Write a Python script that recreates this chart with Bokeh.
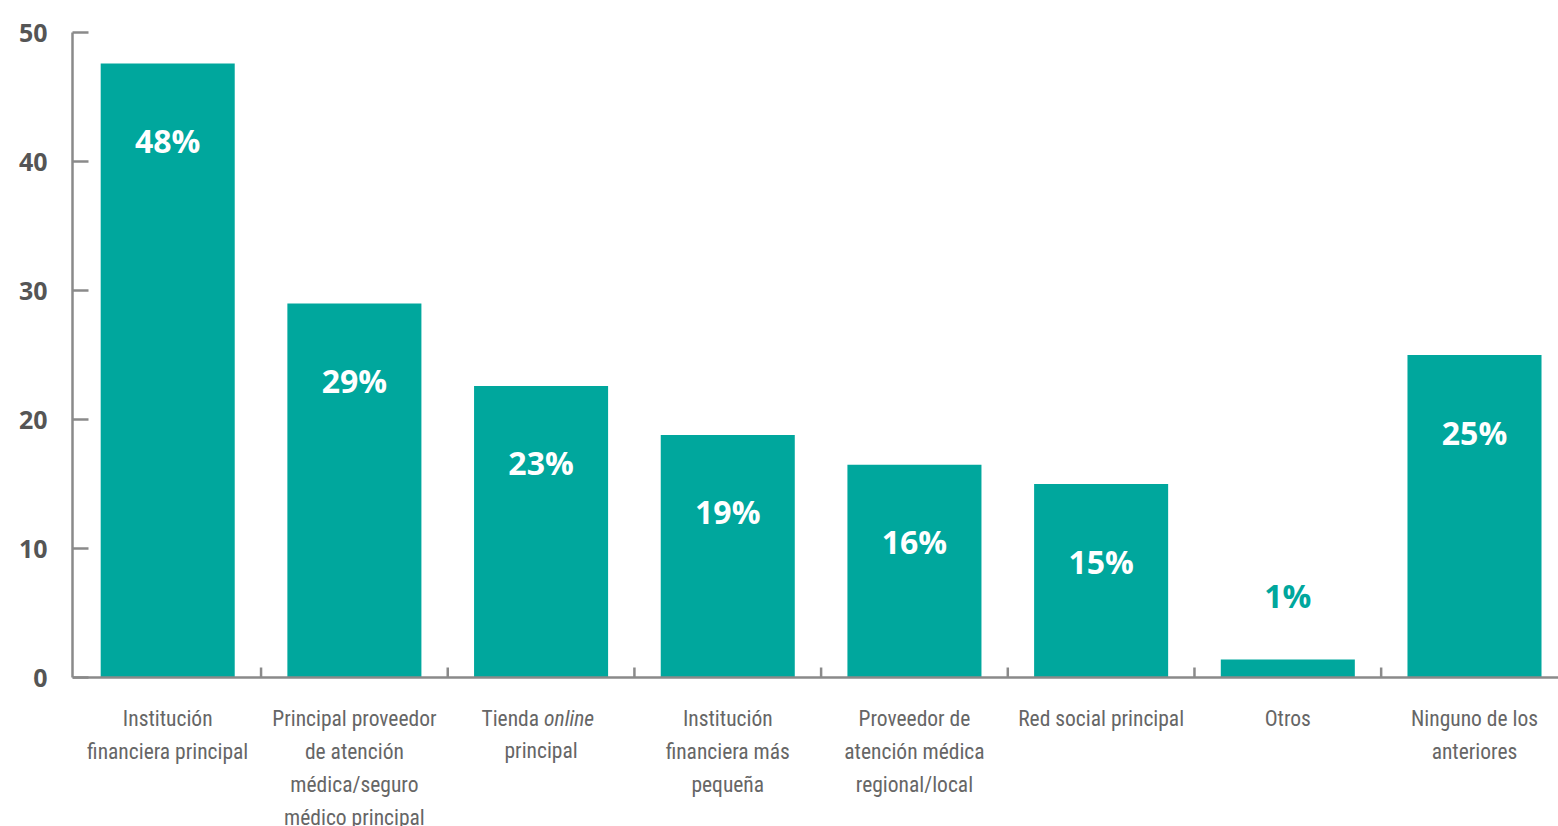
from bokeh.plotting import figure
from bokeh.models import ColumnDataSource, FixedTicker, Span
from bokeh.core.properties import value
from bokeh.embed import file_html
from bokeh.resources import INLINE

categories = [
    "Institución\nfinanciera principal",
    "Principal proveedor\nde atención\nmédica/seguro\nmédico principal",
    "Tienda online\nprincipal",
    "Institución\nfinanciera más\npequeña",
    "Proveedor de\natención médica\nregional/local",
    "Red social principal",
    "Otros",
    "Ninguno de los\nanteriores",
]
italic_word = "online"
values = [47.6, 29.0, 22.6, 18.8, 16.5, 15.0, 1.4, 25.0]
value_labels = ["48%", "29%", "23%", "19%", "16%", "15%", "1%", "25%"]
y_ticks = [0, 10, 20, 30, 40, 50]

TEAL = "#00A79D"
GRAY = "#8a8a8a"
TXT = "#666666"
LABEL_FONT = "'Roboto Condensed', 'Liberation Sans Narrow', Roboto, sans-serif"
BOLD_FONT = "'Open Sans', sans-serif"
LABEL_SIZE = "21.5px"
LINE_H = 1.32

PX_PER_UNIT = 12.9          # vertical scale (px per percentage point)
xs = list(range(len(categories)))
inside = [v >= 5 for v in values]
src = ColumnDataSource(dict(
    x=xs, top=values, lab=value_labels,
    color=["white" if i else TEAL for i in inside],
    off=[77 if i else -64 for i in inside],
))

p = figure(width=1558, height=826, output_backend="svg", toolbar_location=None,
           x_range=(-0.51, 7.45), y_range=(-149 / PX_PER_UNIT, 50),
           x_axis_location=None,
           min_border_left=72, min_border_right=0, min_border_top=32, min_border_bottom=0)
p.outline_line_color = None
p.xgrid.grid_line_color = None
p.ygrid.grid_line_color = None
p.background_fill_color = "white"
p.border_fill_color = "white"

p.vbar(x="x", top="top", bottom=0, width=0.718, source=src, fill_color=TEAL, line_color=None)
p.text(x="x", y="top", text="lab", source=src, y_offset="off", text_color="color",
       text_font=value(BOLD_FONT), text_font_style="bold", text_font_size="32px",
       text_align="center", text_baseline="middle")

# y axis limited to 0..50
ya = p.yaxis[0]
ya.ticker = FixedTicker(ticks=y_ticks)
ya.bounds = (min(y_ticks), max(y_ticks))
ya.axis_line_color = GRAY
ya.axis_line_width = 2.5
ya.major_tick_line_color = GRAY
ya.major_tick_line_width = 2.5
ya.major_tick_in = 16
ya.major_tick_out = 0
ya.minor_tick_line_color = None
ya.major_label_standoff = 25
ya.major_label_text_font = BOLD_FONT
ya.major_label_text_font_style = "bold"
ya.major_label_text_font_size = "25px"
ya.major_label_text_color = "#555555"

# x axis line at 0 with separator ticks between categories
p.add_layout(Span(location=0, dimension="width", line_color=GRAY, line_width=2.5, level="overlay"))
seps = [i + 0.5 for i in xs[:-1]]
p.segment(x0=seps, y0=[0] * len(seps), x1=seps, y1=[10 / PX_PER_UNIT] * len(seps),
          line_color=GRAY, line_width=2.5)

# category labels (drawn inside the extended frame below 0)
label_y = -2.2
plain_x, plain_t = [], []
for i, c in enumerate(categories):
    first, *rest = c.split("\n")
    if italic_word in first:
        before = first.replace(italic_word, "").strip()
        p.text(x=[i], y=[label_y], text=[before], x_offset=-2, text_align="right",
               text_baseline="top", text_font=value(LABEL_FONT), text_font_size=LABEL_SIZE,
               text_color=TXT)
        p.text(x=[i], y=[label_y], text=[italic_word], x_offset=3, text_align="left",
               text_baseline="top", text_font=value(LABEL_FONT), text_font_size=LABEL_SIZE,
               text_font_style="italic", text_color=TXT)
        p.text(x=[i], y=[label_y], y_offset=32, text=["\n".join(rest)], text_align="center",
               text_baseline="top", text_font=value(LABEL_FONT), text_font_size=LABEL_SIZE,
               text_color=TXT, text_line_height=LINE_H)
    else:
        plain_x.append(i)
        plain_t.append(c)
p.text(x=plain_x, y=[label_y] * len(plain_x), text=plain_t, text_align="center",
       text_baseline="top", text_font=value(LABEL_FONT), text_font_size=LABEL_SIZE,
       text_color=TXT, text_line_height=LINE_H)

open("out.html", "w").write(file_html(p, INLINE))
